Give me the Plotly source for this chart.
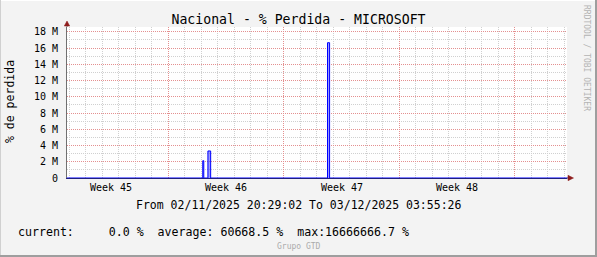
import plotly.graph_objects as go
import pandas as pd

# ---- data ----
sample_times = [
    "2025-11-02 20:29:02",
    "2025-11-11 02:00:00", "2025-11-11 03:30:00",
    "2025-11-11 09:30:00", "2025-11-11 13:30:00",
    "2025-11-18 15:30:00", "2025-11-18 18:30:00",
    "2025-12-03 03:55:26",
]
loss_values = [0, 2.13e6, 0, 3.33e6, 0, 16666666.7, 0, 0]

range_start = "2025-11-02 20:29:02"
range_end = "2025-12-03 03:55:26"
week_starts = ["2025-11-09", "2025-11-16", "2025-11-23", "2025-11-30"]
week_label_pos = ["2025-11-05 12:00", "2025-11-12 12:00", "2025-11-19 12:00", "2025-11-26 12:00"]
week_labels = ["Week 45", "Week 46", "Week 47", "Week 48"]
y_tick_vals = [0, 2e6, 4e6, 6e6, 8e6, 10e6, 12e6, 14e6, 16e6, 18e6]
y_tick_text = ["0", "2 M", "4 M", "6 M", "8 M", "10 M", "12 M", "14 M", "16 M", "18 M"]

title_text = "Nacional - % Perdida - MICROSOFT"
y_title = "% de perdida"
period_text = "From 02/11/2025 20:29:02 To 03/12/2025 03:55:26"
legend_text = "current:     0.0 %  average: 60668.5 %  max:16666666.7 %"
watermark = "Grupo GTD"
side_text = "RRDTOOL / TOBI OETIKER"

# minor grid positions (daily / every 1 M), excluding the major ones
day_grid = [d.strftime("%Y-%m-%d") for d in pd.date_range("2025-11-03", "2025-12-03", freq="D")
            if d.strftime("%Y-%m-%d") not in week_starts]
y_minor_grid = [v * 1e6 for v in range(1, 19, 2)]

# ---- layout geometry (pixels) ----
W, H = 597, 257
L, R, T, B = 67, 567, 27, 178
PW, PH = R - L, B - T


def px(x):
    return (x - L) / PW


def py(y):
    return (B - y) / PH


MONO = "DejaVu Sans Mono"
RED_GRID = "#E49090"
GRAY_GRID = "#D0D0D0"
DOT = "1px,1px"

fig = go.Figure()
fig.add_trace(go.Scatter(
    x=sample_times, y=loss_values, mode="lines", line_shape="hv",
    line=dict(color="#0000FF", width=1),
    fill="tozeroy", fillcolor="rgba(70,70,255,0.55)",
    hoverinfo="skip", showlegend=False,
))

fig.update_layout(
    width=W, height=H,
    margin=dict(l=L, r=W - R, t=T, b=H - B, pad=0),
    paper_bgcolor="#F3F3F3", plot_bgcolor="#FFFFFF",
    showlegend=False,
    font=dict(family=MONO, size=10, color="#000000"),
    title=dict(text=title_text, x=0.5, xanchor="center", xref="container",
               y=1 - 19 / H, yanchor="middle", yref="container",
               font=dict(family=MONO, size=13.2, color="#000000")),
    xaxis=dict(
        type="date", range=[range_start, range_end],
        tickmode="array", tickvals=week_starts, showticklabels=False, ticks="",
        showgrid=True, gridcolor=RED_GRID, griddash=DOT, gridwidth=1,
        minor=dict(tickmode="array", tickvals=day_grid, showgrid=True,
                   gridcolor=GRAY_GRID, griddash=DOT, gridwidth=1, ticks=""),
        showline=True, linecolor="#1E1E82", linewidth=1, layer="above traces",
        zeroline=False, fixedrange=True,
    ),
    yaxis=dict(
        range=[0, 18.6e6], tickmode="array", tickvals=y_tick_vals, ticktext=y_tick_text,
        ticks="", ticklabelstandoff=6,
        tickfont=dict(family=MONO, size=10, color="#000000"),
        showgrid=True, gridcolor=RED_GRID, griddash=DOT, gridwidth=1,
        minor=dict(tickmode="array", tickvals=y_minor_grid, showgrid=True,
                   gridcolor=GRAY_GRID, griddash=DOT, gridwidth=1, ticks=""),
        showline=True, linecolor="#707070", linewidth=1,
        zeroline=False, fixedrange=True,
    ),
)

annotations = []
for pos, lab in zip(week_label_pos, week_labels):
    annotations.append(dict(x=pos, xref="x", y=py(187), yref="paper", text=lab,
                            showarrow=False, xanchor="center", yanchor="middle",
                            font=dict(family=MONO, size=10, color="#000000")))
annotations += [
    dict(x=px(10), y=py(102), xref="paper", yref="paper", text=y_title, textangle=-90,
         showarrow=False, xanchor="center", yanchor="middle",
         font=dict(family=MONO, size=11.5, color="#000000")),
    dict(x=px(298.5), y=py(205), xref="paper", yref="paper", text=period_text,
         showarrow=False, xanchor="center", yanchor="middle",
         font=dict(family=MONO, size=11.5, color="#000000")),
    dict(x=px(16), y=py(232), xref="paper", yref="paper",
         text=legend_text.replace(" ", "\u00a0"),
         showarrow=False, xanchor="left", yanchor="middle",
         font=dict(family=MONO, size=11.6, color="#000000")),
    dict(x=px(298.5), y=py(246), xref="paper", yref="paper", text=watermark,
         showarrow=False, xanchor="center", yanchor="middle",
         font=dict(family=MONO, size=8, color="#ABABAB")),
    dict(x=px(587), y=py(58), xref="paper", yref="paper", text=side_text, textangle=90,
         showarrow=False, xanchor="center", yanchor="middle",
         font=dict(family=MONO, size=8, color="#B4B4B4")),
]
fig.update_layout(annotations=annotations)

ARROW = "#8E1C1C"
shapes = [
    # frame
    dict(type="line", xref="paper", yref="paper", x0=px(0), x1=px(597), y0=py(0.5), y1=py(0.5),
         line=dict(color="#FFFFFF", width=1)),
    dict(type="line", xref="paper", yref="paper", x0=px(0.5), x1=px(0.5), y0=py(0), y1=py(257),
         line=dict(color="#D0D0D0", width=1)),
    dict(type="line", xref="paper", yref="paper", x0=px(0), x1=px(597), y0=py(256), y1=py(256),
         line=dict(color="#9E9E9E", width=2)),
    dict(type="line", xref="paper", yref="paper", x0=px(596), x1=px(596), y0=py(0), y1=py(257),
         line=dict(color="#9E9E9E", width=2)),
    # y-axis extension + arrow
    dict(type="line", xref="paper", yref="paper", x0=0, x1=0, y0=1, y1=py(25),
         line=dict(color="#707070", width=1)),
    dict(type="path", xref="paper", yref="paper",
         path=f"M {px(64.3)} {py(26)} L {px(69.7)} {py(26)} L {px(67)} {py(21)} Z",
         fillcolor=ARROW, line=dict(color=ARROW, width=0.5)),
    # x-axis extension + arrow
    dict(type="line", xref="paper", yref="paper", x0=1, x1=px(569), y0=0, y1=0,
         line=dict(color="#1E1E82", width=1)),
    dict(type="path", xref="paper", yref="paper",
         path=f"M {px(568)} {py(175.3)} L {px(568)} {py(180.7)} L {px(573.5)} {py(178)} Z",
         fillcolor=ARROW, line=dict(color=ARROW, width=0.5)),
]
fig.update_layout(shapes=shapes)

fig.write_html("out.html")
